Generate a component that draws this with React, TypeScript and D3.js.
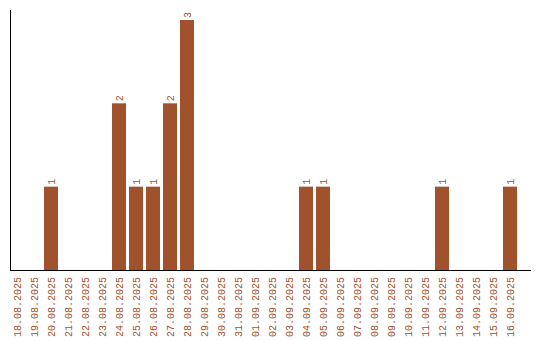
import React from "react";
import * as d3 from "d3";

const dates = [
  "18.08.2025","19.08.2025","20.08.2025","21.08.2025","22.08.2025","23.08.2025",
  "24.08.2025","25.08.2025","26.08.2025","27.08.2025","28.08.2025","29.08.2025",
  "30.08.2025","31.08.2025","01.09.2025","02.09.2025","03.09.2025","04.09.2025",
  "05.09.2025","06.09.2025","07.09.2025","08.09.2025","09.09.2025","10.09.2025",
  "11.09.2025","12.09.2025","13.09.2025","14.09.2025","15.09.2025","16.09.2025",
];
const counts = [0,0,1,0,0,0,2,1,1,2,3,0,0,0,0,0,0,1,1,0,0,0,0,0,0,1,0,0,0,1];

const W = 540, H = 340;
const left = 10, top = 10, bottom = 270;
const color = "#A0522D";
const font = "'Liberation Mono', 'Courier New', monospace";

export default function App() {
  const x = d3.scaleBand<string>().domain(dates).range([left, left + 17 * dates.length]).paddingInner(3 / 17).paddingOuter(0).align(0);
  const y = d3.scaleLinear().domain([0, 3]).range([bottom, 20]);
  const bw = 14;
  return (
    <svg width={W} height={H} style={{ position: "absolute", left: 0, top: 0 }}>
      {dates.map((d, i) => {
        const x0 = left + i * 17;
        const v = counts[i];
        return (
          <g key={d}>
            {v > 0 && (
              <>
                <rect x={x0} y={y(v)} width={bw} height={bottom - y(v)} fill={color} />
                <text
                  transform={`translate(${x0 + bw / 2 + 4},${y(v) - 2}) rotate(-90)`}
                  fontFamily={font}
                  fontSize={10}
                  fill={color}
                >
                  {v}
                </text>
              </>
            )}
            <text
              transform={`translate(${x0 + bw / 2 + 4},${bottom + 7}) rotate(-90)`}
              textAnchor="end"
              fontFamily={font}
              fontSize={10}
              fill={color}
            >
              {d}
            </text>
          </g>
        );
      })}
      <line x1={left + 0.5} x2={left + 0.5} y1={top} y2={bottom} stroke="black" />
      <line x1={left} x2={531} y1={bottom + 0.5} y2={bottom + 0.5} stroke="black" />
    </svg>
  );
}
